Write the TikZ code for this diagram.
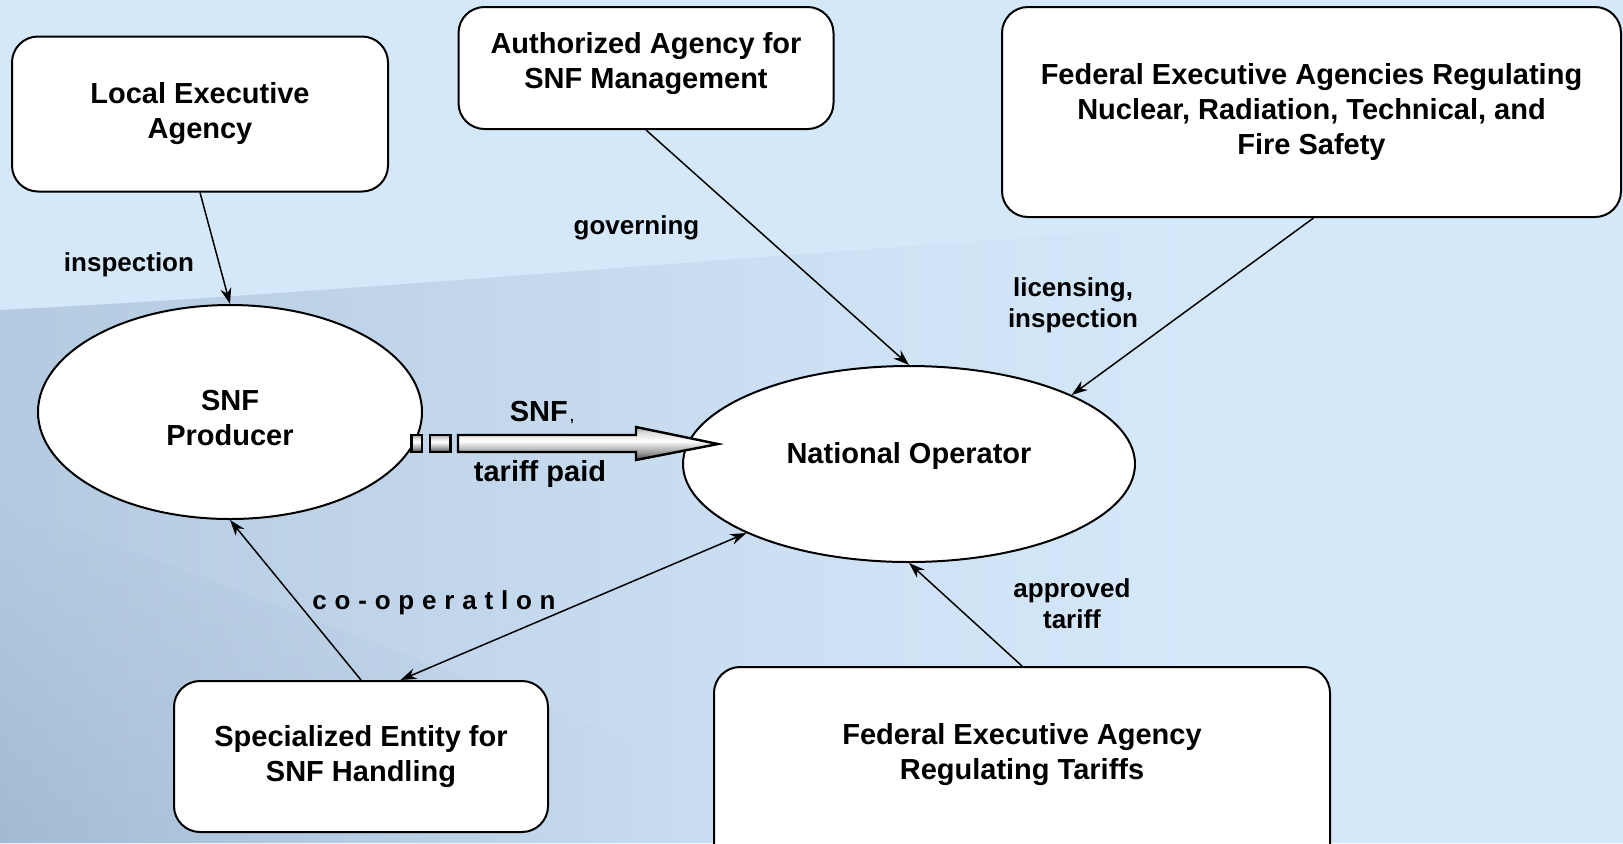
\documentclass[tikz,border=0pt]{standalone}
\usepackage{fontspec}
\setmainfont{Liberation Sans}
\usetikzlibrary{arrows.meta,shapes.geometric,fadings}
\definecolor{bgtop}{HTML}{D5E8FA}
\definecolor{bgleft}{HTML}{B4CAE0}
\definecolor{bgdark}{HTML}{A3BAD2}
\pgfdeclareverticalshading{bigsh}{100bp}{color(0bp)=(gray!50!black); color(25bp)=(gray!50!black); color(35bp)=(gray!85); color(45bp)=(gray!40); color(54bp)=(white); color(66bp)=(gray!25); color(75bp)=(gray!70); color(100bp)=(gray!70)}
\pgfdeclarehorizontalshading{bgsh}{100bp}{color(0bp)=(bgleft); color(25bp)=(bgleft); color(52bp)=(bgtop!80!bgleft); color(62bp)=(bgtop); color(100bp)=(bgtop)}
\begin{document}
\begin{tikzpicture}[x=0.5pt,y=-0.5pt,
  box/.style={draw=black, line width=1pt, fill=white, rounded corners=13pt, align=center,
    font=\bfseries\fontsize{14.5}{17.5}\selectfont, inner sep=0pt},
  oval/.style={ellipse, draw=black, line width=1pt, fill=white, inner sep=0pt},
  txt/.style={font=\bfseries\fontsize{14.5}{17.5}\selectfont, align=center, inner sep=0pt},
  lbl/.style={font=\bfseries\fontsize{13}{15.5}\selectfont, align=center, inner sep=0pt},
  arr/.style={-{Stealth[length=8pt,width=5.5pt]}, line width=0.75pt},
  darr/.style={{Stealth[length=8pt,width=5.5pt]}-{Stealth[length=8pt,width=5.5pt]}, line width=0.75pt},
  bigshade/.style={shading=bigsh, draw=black, line width=1.2pt}
]
\useasboundingbox (0,0) rectangle (1623,843);
\clip (0,0) rectangle (1623,843);
% background
\fill[bgtop] (0,0) rectangle (1623,843);
\shade[shading=bgsh]
  (0,310) .. controls (400,290) and (900,240) .. (1623,200) -- (1623,843) -- (0,843) -- cycle;
\shade[left color=bgdark, right color=bgtop, path fading=north]
  (0,500) -- (900,843) -- (0,843) -- cycle;

% nodes
\node[box, minimum width=188pt, minimum height=77.5pt] (local) at (200,114) {Local Executive\\Agency};
\node[box, minimum width=187.5pt, minimum height=61pt] (auth) at (646,68) {};
\node[txt] (authtext) at (646,63.5) {Authorized Agency for\\SNF Management};
\node[box, minimum width=309.5pt, minimum height=105pt] (fedag) at (1311.5,112)
  {Federal Executive Agencies Regulating\\Nuclear, Radiation, Technical, and\\Fire Safety};
\node[oval, minimum width=192pt, minimum height=107pt] (producer) at (230,412) {};
\node[txt] (producertext) at (230,418) {SNF\\Producer};
\node[oval, minimum width=226pt, minimum height=98pt] (natop) at (909,464) {};
\node[txt] (natoptext) at (909,456) {National Operator};
\node[box, minimum width=187pt, minimum height=75.5pt] (special) at (361,756.5) {Specialized Entity for\\SNF Handling};
\node[box, minimum width=308pt, minimum height=101.5pt] (tariffbox) at (1022,768.5) {};
\node[txt] (tarifftext) at (1022,755) {Federal Executive Agency\\Regulating Tariffs};

% connectors
\draw[arr] (local.south) -- (producer.north);
\draw[arr] (auth.south) -- (natop.north);
\draw[arr] ([xshift=1pt]fedag.south) -- (natop.23.6);
\draw[arr] (tariffbox.north) -- (natop.south);
\draw[arr] (special.north) -- (producer.south);
\draw[darr] ([xshift=19.75pt]special.north) -- (natop.203.5);

% big arrow
\shade[bigshade] (411.5,435) rectangle (422,452);
\shade[bigshade] (430,435) rectangle (450.5,452);
\shade[bigshade] (458,435) -- (636,435) -- (636,427) -- (718,444) -- (636,460) -- (636,452) -- (458,452) -- cycle;

% labels
\node[lbl] (l1) at (129,265) {inspection};
\node[lbl] (l2) at (636.5,228) {governing};
\node[lbl] (l3) at (1073,305) {licensing,\\inspection};
\node[lbl] (l4) at (1072,604) {approved\\tariff};
\node[lbl] (l5) at (434,603) {c\hspace{3.9pt}o\hspace{3.9pt}-\hspace{3.9pt}o\hspace{3.9pt}p\hspace{3.9pt}e\hspace{3.9pt}r\hspace{3.9pt}a\hspace{3.9pt}t\hspace{3.9pt}l\hspace{3.9pt}o\hspace{3.9pt}n};
\node[txt] (l6) at (542,412) {SNF{\fontsize{7}{8}\selectfont\,,}};
\node[txt] (l7) at (540,474) {tariff paid};
\end{tikzpicture}
\end{document}
